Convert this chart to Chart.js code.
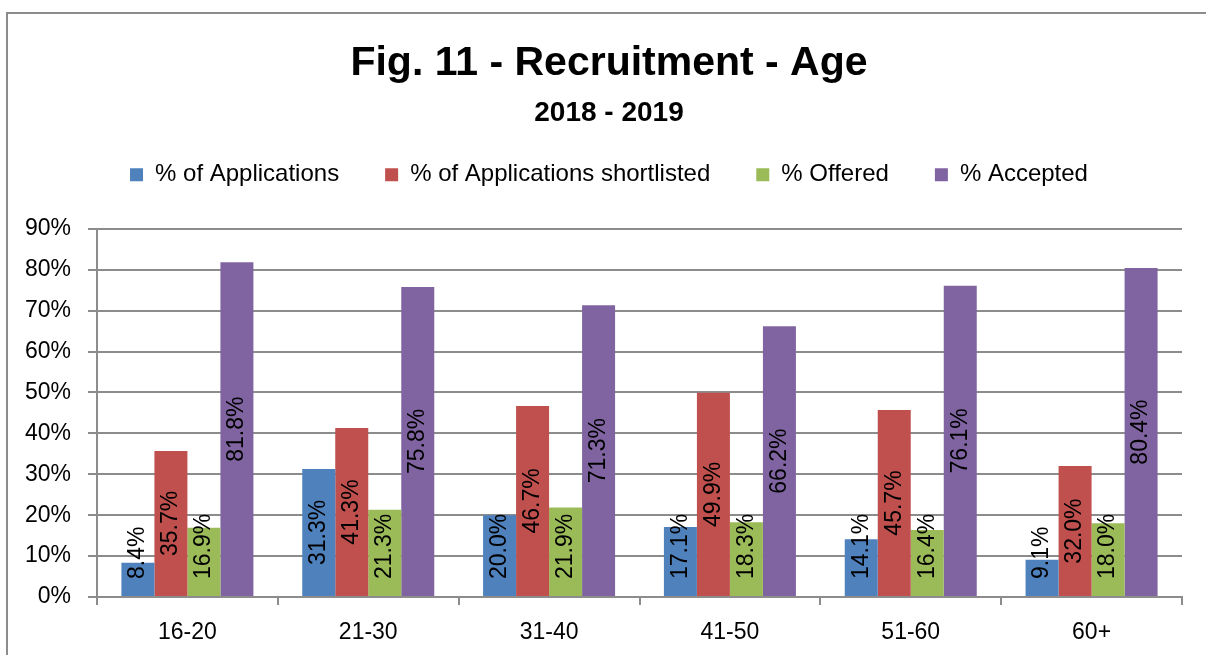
<!DOCTYPE html>
<html>
<head>
<meta charset="utf-8">
<script src="https://cdn.jsdelivr.net/npm/chart.js@4.4.1/dist/chart.umd.min.js"></script>
<style>
  html, body { margin: 0; padding: 0; background: #fff; overflow: hidden; }
  #frame { position: absolute; left: 6px; top: 12px; width: 1300px; height: 700px;
           border-left: 2px solid #8c8c8c; border-top: 2px solid #8c8c8c; }
  #chart1 { position: absolute; left: 0; top: 0; }
</style>
</head>
<body>
<div id="frame"></div>
<canvas id="chart1" width="1206" height="655"></canvas>
<script>
const ageGroups = ["16-20", "21-30", "31-40", "41-50", "51-60", "60+"];
const applications = [8.4, 31.3, 20.0, 17.1, 14.1, 9.1];
const shortlisted = [35.7, 41.3, 46.7, 49.9, 45.7, 32.0];
const offered = [16.9, 21.3, 21.9, 18.3, 16.4, 18.0];
const accepted = [81.8, 75.8, 71.3, 66.2, 76.1, 80.4];
const yTicks = [0, 10, 20, 30, 40, 50, 60, 70, 80, 90];

Chart.defaults.font.family = "'Liberation Sans', Arial, sans-serif";
Chart.defaults.color = "#000";

// value labels, turned on their side like the Excel ones
const barLabels = {
    id: "barLabels",
    afterDatasetsDraw(chart) {
        const ctx = chart.ctx;
        ctx.save();
        ctx.font = "23px 'Liberation Sans', Arial, sans-serif";
        ctx.fillStyle = "#000";
        ctx.textAlign = "center";
        ctx.textBaseline = "middle";
        chart.data.datasets.forEach((ds, i) => {
            chart.getDatasetMeta(i).data.forEach((bar, j) => {
                const txt = ds.data[j].toFixed(1) + "%";
                const w = ctx.measureText(txt).width;
                const cy = Math.min((bar.y + bar.base) / 2, bar.base - 17 - w / 2);
                ctx.save();
                ctx.translate(bar.x, cy);
                ctx.rotate(-Math.PI / 2);
                ctx.fillText(txt, 0, 0);
                ctx.restore();
            });
        });
        ctx.restore();
    }
};

const chart1 = document.getElementById("chart1");

new Chart(chart1, {
    type: "bar",
    data: {
        labels: ageGroups,
        datasets: [
            { label: "% of Applications", data: applications, backgroundColor: "#4F81BD", xAxisID: "x", yAxisID: "y" },
            { label: "% of Applications shortlisted", data: shortlisted, backgroundColor: "#C0504D", xAxisID: "x", yAxisID: "y" },
            { label: "% Offered", data: offered, backgroundColor: "#9BBB59", xAxisID: "x", yAxisID: "y" },
            { label: "% Accepted", data: accepted, backgroundColor: "#8064A2", xAxisID: "x", yAxisID: "y" }
        ]
    },
    options: {
        responsive: false,
        animation: false,
        events: [],
        devicePixelRatio: 1,
        categoryPercentage: 0.73,
        barPercentage: 1.0,
        layout: { padding: { left: 12, right: 0, top: 0, bottom: 0 } },
        plugins: {
            title: {
                display: true,
                text: "Fig. 11 - Recruitment - Age",
                font: { size: 41, weight: "bold" },
                padding: { top: 39, bottom: 0 }
            },
            subtitle: {
                display: true,
                text: "2018 - 2019",
                color: "#000",
                font: { size: 28, weight: "bold" },
                padding: { top: 8, bottom: -13 }
            },
            legend: {
                labels: {
                    boxWidth: 13,
                    boxHeight: 13,
                    padding: 46,
                    font: { size: 24 }
                }
            },
            tooltip: { enabled: false }
        },
        scales: {
            x: {
                position: "bottom",
                grid: { drawOnChartArea: false, color: "#8c8c8c", lineWidth: 2, tickLength: 8 },
                border: { color: "#8c8c8c", width: 2 },
                ticks: { font: { size: 23 }, padding: 14 },
                afterFit(s) { s.height = 58; }
            },
            gapTop: {
                type: "category",
                position: "top",
                grid: { display: false },
                border: { display: false },
                ticks: { display: false },
                afterFit(s) { s.height = 32; }
            },
            y: {
                min: 0,
                max: 90,
                afterBuildTicks(s) { s.ticks = yTicks.map(v => ({ value: v })); },
                ticks: { font: { size: 23 }, padding: 17, callback: v => v + "%" },
                grid: { color: "#8c8c8c", lineWidth: 2, tickLength: 9 },
                border: { color: "#8c8c8c", width: 2 },
                afterFit(s) { s.width = 85; }
            },
            gapRight: {
                type: "linear",
                position: "right",
                grid: { display: false },
                border: { display: false },
                ticks: { display: false },
                afterFit(s) { s.width = 24; }
            }
        }
    },
    plugins: [barLabels]
});
</script>
</body>
</html>
